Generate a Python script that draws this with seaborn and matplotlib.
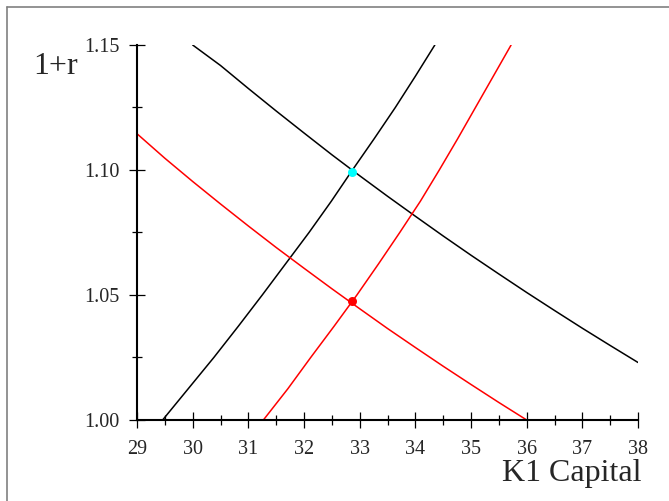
import numpy as np
import pandas as pd
import matplotlib
matplotlib.use("Agg")
import matplotlib.pyplot as plt
from matplotlib.lines import Line2D
from matplotlib.ticker import MultipleLocator, FormatStrFormatter
import seaborn as sns

# Values
black_down_k = [30.0, 30.5, 31.0, 31.5, 32.0, 32.5, 33.0, 33.5, 34.0,
                34.5, 35.0, 35.5, 36.0, 36.5, 37.0, 37.5, 38.0]
black_down_r = [1.1500, 1.1418, 1.1326, 1.1236, 1.1148, 1.1061, 1.0977,
                1.0895, 1.0815, 1.0736, 1.0659, 1.0584, 1.0510, 1.0438,
                1.0367, 1.0298, 1.0230]

black_up_k = [29.46, 29.92, 30.38, 30.82, 31.25, 31.67, 32.09, 32.49,
              32.87, 33.26, 33.64, 34.00, 34.35]
black_up_r = [1.0, 1.0125, 1.025, 1.0375, 1.05, 1.0625, 1.075, 1.0875,
              1.10, 1.1125, 1.125, 1.1375, 1.15]

red_down_k = [29.0, 29.5, 30.0, 30.5, 31.0, 31.5, 32.0, 32.5, 33.0,
              33.5, 34.0, 34.5, 35.0, 35.5, 36.0]
red_down_r = [1.1145, 1.1047, 1.0954, 1.0864, 1.0776, 1.0690, 1.0607,
              1.0525, 1.0445, 1.0366, 1.0290, 1.0215, 1.0142, 1.0070, 1.0]

red_up_k = [31.27, 31.71, 32.12, 32.54, 32.95, 33.34, 33.72, 34.09,
            34.43, 34.76, 35.08, 35.40, 35.72]
red_up_r = [1.0, 1.0125, 1.025, 1.0375, 1.05, 1.0625, 1.075, 1.0875,
            1.10, 1.1125, 1.125, 1.1375, 1.15]

eq_k = [32.86, 32.86]
eq_r = [1.0992, 1.0474]
eq_colors = ["#00ffff", "#ff0000"]

x_ticks = list(range(29, 39))
y_ticks = [1.00, 1.05, 1.10, 1.15]

sns.set_style("ticks")
plt.rcParams['font.family'] = ['Liberation Serif', 'DejaVu Serif']

fig = plt.figure(figsize=(6.69, 5.01), dpi=100)
ax = fig.add_axes([0.2048, 0.1617, 0.7489, 0.7485])

curves = [
    (black_down_k, black_down_r, "black"),
    (black_up_k, black_up_r, "black"),
    (red_down_k, red_down_r, "red"),
    (red_up_k, red_up_r, "red"),
]
for k, r, col in curves:
    df = pd.DataFrame({"K": k, "R": r})
    sns.lineplot(data=df, x="K", y="R", color=col, linewidth=1.1,
                 estimator=None, sort=True, ax=ax)

for k, r, col in zip(eq_k, eq_r, eq_colors):
    ax.scatter([k], [r], s=42, color=col, zorder=5, linewidths=0)

ax.set_xlim(29, 38)
ax.set_ylim(1.0, 1.15)
ax.set_xticks(x_ticks)
ax.set_yticks(y_ticks)
ax.yaxis.set_major_formatter(FormatStrFormatter("%.2f"))
ax.xaxis.set_minor_locator(MultipleLocator(0.5))
ax.yaxis.set_minor_locator(MultipleLocator(0.025))
ax.set_xlabel("")
ax.set_ylabel("")

for side in ["top", "right"]:
    ax.spines[side].set_visible(False)
for side in ["left", "bottom"]:
    ax.spines[side].set_linewidth(1.5)
    ax.spines[side].set_color("black")

ax.tick_params(which="major", direction="inout", length=11, width=0.9,
               color="black", labelsize=14.5)
ax.tick_params(which="minor", direction="inout", length=6.5, width=0.9,
               color="black")
ax.tick_params(axis="x", which="major", pad=9)
ax.tick_params(axis="y", which="major", pad=7)

# axis titles
fig.text(33 / 669, 1 - 74 / 501, "1+r", fontsize=23, ha="left", va="baseline")
fig.text(642 / 669, 1 - 481 / 501, "K1 Capital", fontsize=23, ha="right",
         va="baseline")

# grey frame (only left and top edges visible)
fig.add_artist(Line2D([7 / 669, 7 / 669], [0, 1 - 7 / 501],
                      transform=fig.transFigure, color="#808080", lw=1.2))
fig.add_artist(Line2D([7 / 669, 1], [1 - 7 / 501, 1 - 7 / 501],
                      transform=fig.transFigure, color="#808080", lw=1.2))

fig.savefig("out.png", dpi=100)
